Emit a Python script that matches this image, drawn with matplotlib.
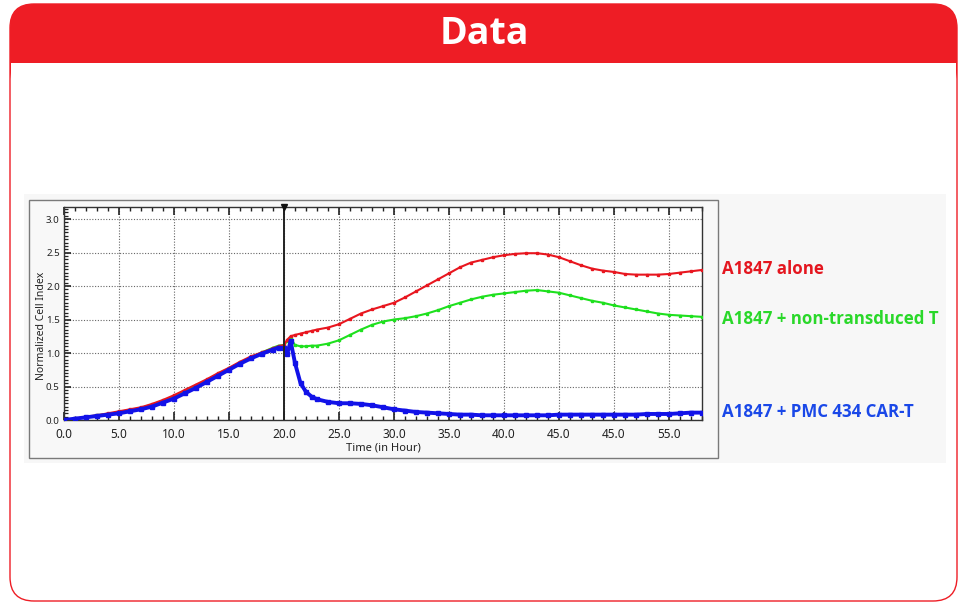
import matplotlib
matplotlib.use("Agg")
import matplotlib.pyplot as plt
from matplotlib.patches import FancyBboxPatch, Rectangle
from matplotlib.ticker import MultipleLocator, FixedLocator

# ---------------- data ----------------
time_h = [0, 1, 2, 3, 4, 5, 6, 7, 8, 9, 10, 11, 12, 13, 14, 15, 16, 17, 18, 19,
          19.5, 20.0, 20.3, 20.6, 21.0, 21.5, 22.0, 22.5, 23, 24, 25, 26, 27, 28, 29,
          30, 31, 32, 33, 34, 35, 36, 37, 38, 39, 40, 41, 42, 43, 44, 45, 46, 47,
          48, 49, 50, 51, 52, 53, 54, 55, 56, 57, 58]

alone = [0.00, 0.02, 0.05, 0.07, 0.10, 0.13, 0.16, 0.19, 0.24, 0.30, 0.37, 0.45,
         0.53, 0.61, 0.70, 0.78, 0.87, 0.95, 1.01, 1.07,
         1.10, 1.12, 1.20, 1.25, 1.27, 1.29, 1.31, 1.33, 1.35, 1.38, 1.43, 1.51,
         1.59, 1.65, 1.70, 1.75, 1.83, 1.92, 2.01, 2.10, 2.19, 2.28, 2.35, 2.39,
         2.43, 2.46, 2.48, 2.49, 2.49, 2.47, 2.43, 2.37, 2.31, 2.26, 2.23, 2.21,
         2.18, 2.17, 2.17, 2.17, 2.18, 2.20, 2.22, 2.24]

non_transduced = [0.00, 0.02, 0.04, 0.07, 0.09, 0.12, 0.15, 0.18, 0.23, 0.29, 0.35,
                  0.43, 0.51, 0.60, 0.69, 0.77, 0.86, 0.94, 1.01, 1.08,
                  1.11, 1.12, 1.18, 1.22, 1.12, 1.10, 1.10, 1.11, 1.11, 1.14, 1.19,
                  1.27, 1.35, 1.42, 1.47, 1.50, 1.52, 1.55, 1.59, 1.64, 1.70, 1.75,
                  1.80, 1.84, 1.87, 1.89, 1.91, 1.93, 1.94, 1.92, 1.90, 1.86, 1.82,
                  1.78, 1.75, 1.71, 1.68, 1.65, 1.62, 1.59, 1.57, 1.56, 1.55, 1.54]

car_t = [0.00, 0.02, 0.04, 0.06, 0.08, 0.10, 0.13, 0.16, 0.20, 0.26, 0.32, 0.40,
         0.48, 0.57, 0.66, 0.75, 0.84, 0.92, 0.99, 1.05,
         1.08, 1.07, 0.99, 1.18, 0.85, 0.55, 0.42, 0.35, 0.31, 0.27, 0.25, 0.25,
         0.24, 0.22, 0.19, 0.16, 0.14, 0.12, 0.11, 0.10, 0.09, 0.08, 0.08, 0.07,
         0.07, 0.07, 0.07, 0.07, 0.07, 0.07, 0.08, 0.08, 0.08, 0.08, 0.08, 0.08,
         0.08, 0.08, 0.09, 0.09, 0.09, 0.10, 0.11, 0.11]

x_ticks = [0, 5, 10, 15, 20, 25, 30, 35, 40, 45, 50, 55]
x_tick_labels = ["0.0", "5.0", "10.0", "15.0", "20.0", "25.0", "30.0", "35.0",
                 "40.0", "45.0", "45.0", "55.0"]
y_ticks = [0.0, 0.5, 1.0, 1.5, 2.0, 2.5, 3.0]
y_tick_labels = ["0.0", "0.5", "1.0", "1.5", "2.0", "2.5", "3.0"]
series_labels = ["A1847 alone", "A1847 + non-transduced T", "A1847 + PMC 434 CAR-T"]
treatment_time = 20.0

RED = "#E8161F"
GREEN = "#1EE01E"
BLUE = "#1212E8"

W, H = 964, 602
fig = plt.figure(figsize=(W / 100, H / 100), dpi=100)

# ---------------- background / frame in pixel coords ----------------
bg = fig.add_axes([0, 0, 1, 1])
bg.set_xlim(0, W)
bg.set_ylim(H, 0)
bg.axis("off")

# red header rounded box
bg.add_patch(FancyBboxPatch((10, 4), 947, 90, boxstyle="round,pad=0,rounding_size=24",
                            facecolor="#EE1D25", edgecolor="none", zorder=1))
bg.add_patch(Rectangle((10.6, 63), 945.8, 40, facecolor="white", edgecolor="none", zorder=2))
# panel outline
bg.add_patch(FancyBboxPatch((10, 4), 947, 597, boxstyle="round,pad=0,rounding_size=24",
                            facecolor="none", edgecolor="#EE1D25", linewidth=1.0, zorder=3))
bg.text(484, 34, "Data", color="white", fontsize=27, fontweight="bold",
        family=["Open Sans", "DejaVu Sans"], ha="center", va="center", zorder=4)

# chart image background
bg.add_patch(Rectangle((24, 194), 922, 269, facecolor="#F7F7F7", edgecolor="none", zorder=1))
bg.add_patch(Rectangle((29, 200), 689, 258, facecolor="#F8F8F8", edgecolor="#7A7A7A",
                       linewidth=1.0, zorder=2))

# legend texts
legend_y = [269, 319, 412]
legend_colors = ["#E4161F", "#2AD82A", "#1A48E8"]
for lab, yy, cc in zip(series_labels, legend_y, legend_colors):
    bg.text(722, yy, lab, color=cc, fontsize=12.2, fontweight="bold",
            family=["Open Sans", "DejaVu Sans"], ha="left", va="center", zorder=4)

# ---------------- data axes ----------------
ax = fig.add_axes([64 / W, 1 - 420 / H, 638 / W, 213 / H])
ax.set_facecolor("white")
ax.set_xlim(0, 58)
ax.set_ylim(0, 3.18)

ax.plot(time_h, non_transduced, color=GREEN, lw=1.5, marker="s", ms=2.0, zorder=3)
ax.plot(time_h, alone, color=RED, lw=1.5, marker="s", ms=2.0, zorder=4)
ax.plot(time_h, car_t, color=BLUE, lw=2.8, marker="s", ms=3.2, zorder=5)

ax.axvline(treatment_time, color="#222222", lw=1.4, zorder=6)
ax.plot([treatment_time], [3.18], marker="v", color="#111111", ms=5, clip_on=False, zorder=7)

ax.xaxis.set_major_locator(FixedLocator(x_ticks))
ax.set_xticklabels(x_tick_labels)
ax.xaxis.set_minor_locator(MultipleLocator(1))
ax.yaxis.set_major_locator(FixedLocator(y_ticks))
ax.set_yticklabels(y_tick_labels)
ax.yaxis.set_minor_locator(MultipleLocator(0.05))

ax.tick_params(axis="both", which="both", direction="in", colors="#222222",
               top=True, right=False)
ax.tick_params(axis="x", which="major", length=6, width=1.2, pad=6, labelsize=8.5,
               labelcolor="#222222")
ax.tick_params(axis="x", which="minor", length=3, width=1.0)
ax.tick_params(axis="y", which="major", length=5, width=1.2, pad=3, labelsize=7,
               labelcolor="#222222")
ax.tick_params(axis="y", which="minor", length=3, width=0.9)
for lab in ax.get_xticklabels() + ax.get_yticklabels():
    lab.set_family(["Noto Sans", "DejaVu Sans"])

ax.grid(True, which="major", color="#666666", linestyle=(0, (1, 1.5)), linewidth=0.8)
for sp in ax.spines.values():
    sp.set_color("#333333")
    sp.set_linewidth(1.0)

ax.set_xlabel("Time (in Hour)", fontsize=8, color="#222222", labelpad=1,
              family=["Noto Sans", "DejaVu Sans"])
ax.set_ylabel("Normalized Cell Index", fontsize=7.5, color="#222222",
              family=["Noto Sans", "DejaVu Sans"])
ax.yaxis.set_label_coords(-0.026, 0.44)

fig.savefig("out.png", dpi=100)
